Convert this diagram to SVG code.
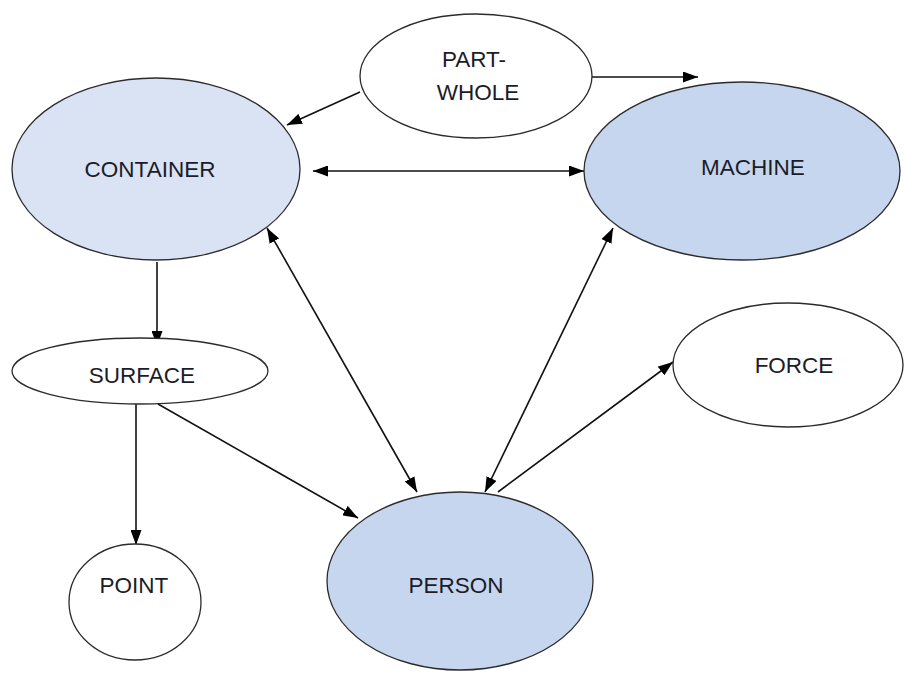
<svg xmlns="http://www.w3.org/2000/svg" width="906" height="675" viewBox="0 0 906 675">
<style>
.n{stroke:#2b2b2b;stroke-width:1.3}
.w{fill:#ffffff}
.l{fill:#dae3f3}
.b{fill:#c6d6ef}
.t{font-family:"Liberation Sans",Arial,sans-serif;font-size:22.5px;fill:#1c1c28;text-anchor:middle}
.c{stroke:#111;stroke-width:1.6;fill:none}
</style>
<defs>
<marker id="ah" viewBox="0 0 15 11" markerWidth="15" markerHeight="11" refX="15" refY="5.5" orient="auto-start-reverse" markerUnits="userSpaceOnUse">
<path d="M0,0 L15,5.5 L0,11 z" fill="#000"/>
</marker>
</defs>
<rect width="906" height="675" fill="#fff"/>
<g id="connectors">
<line class="c" x1="360" y1="92" x2="287" y2="125" marker-end="url(#ah)"/>
<line class="c" x1="592" y1="77" x2="698" y2="77" marker-end="url(#ah)"/>
<line class="c" x1="313" y1="171" x2="584" y2="171" marker-start="url(#ah)" marker-end="url(#ah)"/>
<line class="c" x1="267" y1="228" x2="417" y2="492" marker-start="url(#ah)" marker-end="url(#ah)"/>
<line class="c" x1="613" y1="228" x2="485" y2="492" marker-start="url(#ah)" marker-end="url(#ah)"/>
<line class="c" x1="498" y1="492" x2="673" y2="362" marker-end="url(#ah)"/>
<line class="c" x1="157" y1="262" x2="157" y2="346" marker-end="url(#ah)"/>
<line class="c" x1="136" y1="404" x2="136" y2="545" marker-end="url(#ah)"/>
<line class="c" x1="158" y1="404" x2="358" y2="518" marker-end="url(#ah)"/>
</g>
<g id="part-whole">
<ellipse class="n w" cx="476" cy="76" rx="116" ry="62"/>
<text class="t" x="474" y="67">PART-</text>
<text class="t" x="478" y="100">WHOLE</text>
</g>
<g id="container">
<ellipse class="n l" cx="156" cy="169" rx="144" ry="91"/>
<text class="t" x="150" y="177">CONTAINER</text>
</g>
<g id="machine">
<ellipse class="n b" cx="742" cy="171" rx="158" ry="89"/>
<text class="t" x="753" y="175">MACHINE</text>
</g>
<g id="surface">
<ellipse class="n w" cx="140" cy="371" rx="128" ry="33"/>
<text class="t" x="142" y="383">SURFACE</text>
</g>
<g id="point">
<ellipse class="n w" cx="135" cy="602" rx="66" ry="58"/>
<text class="t" x="134" y="593">POINT</text>
</g>
<g id="person">
<ellipse class="n b" cx="460" cy="581" rx="133" ry="89"/>
<text class="t" x="456" y="593">PERSON</text>
</g>
<g id="force">
<ellipse class="n w" cx="788" cy="365" rx="115" ry="62"/>
<text class="t" x="794" y="373">FORCE</text>
</g>
</svg>
